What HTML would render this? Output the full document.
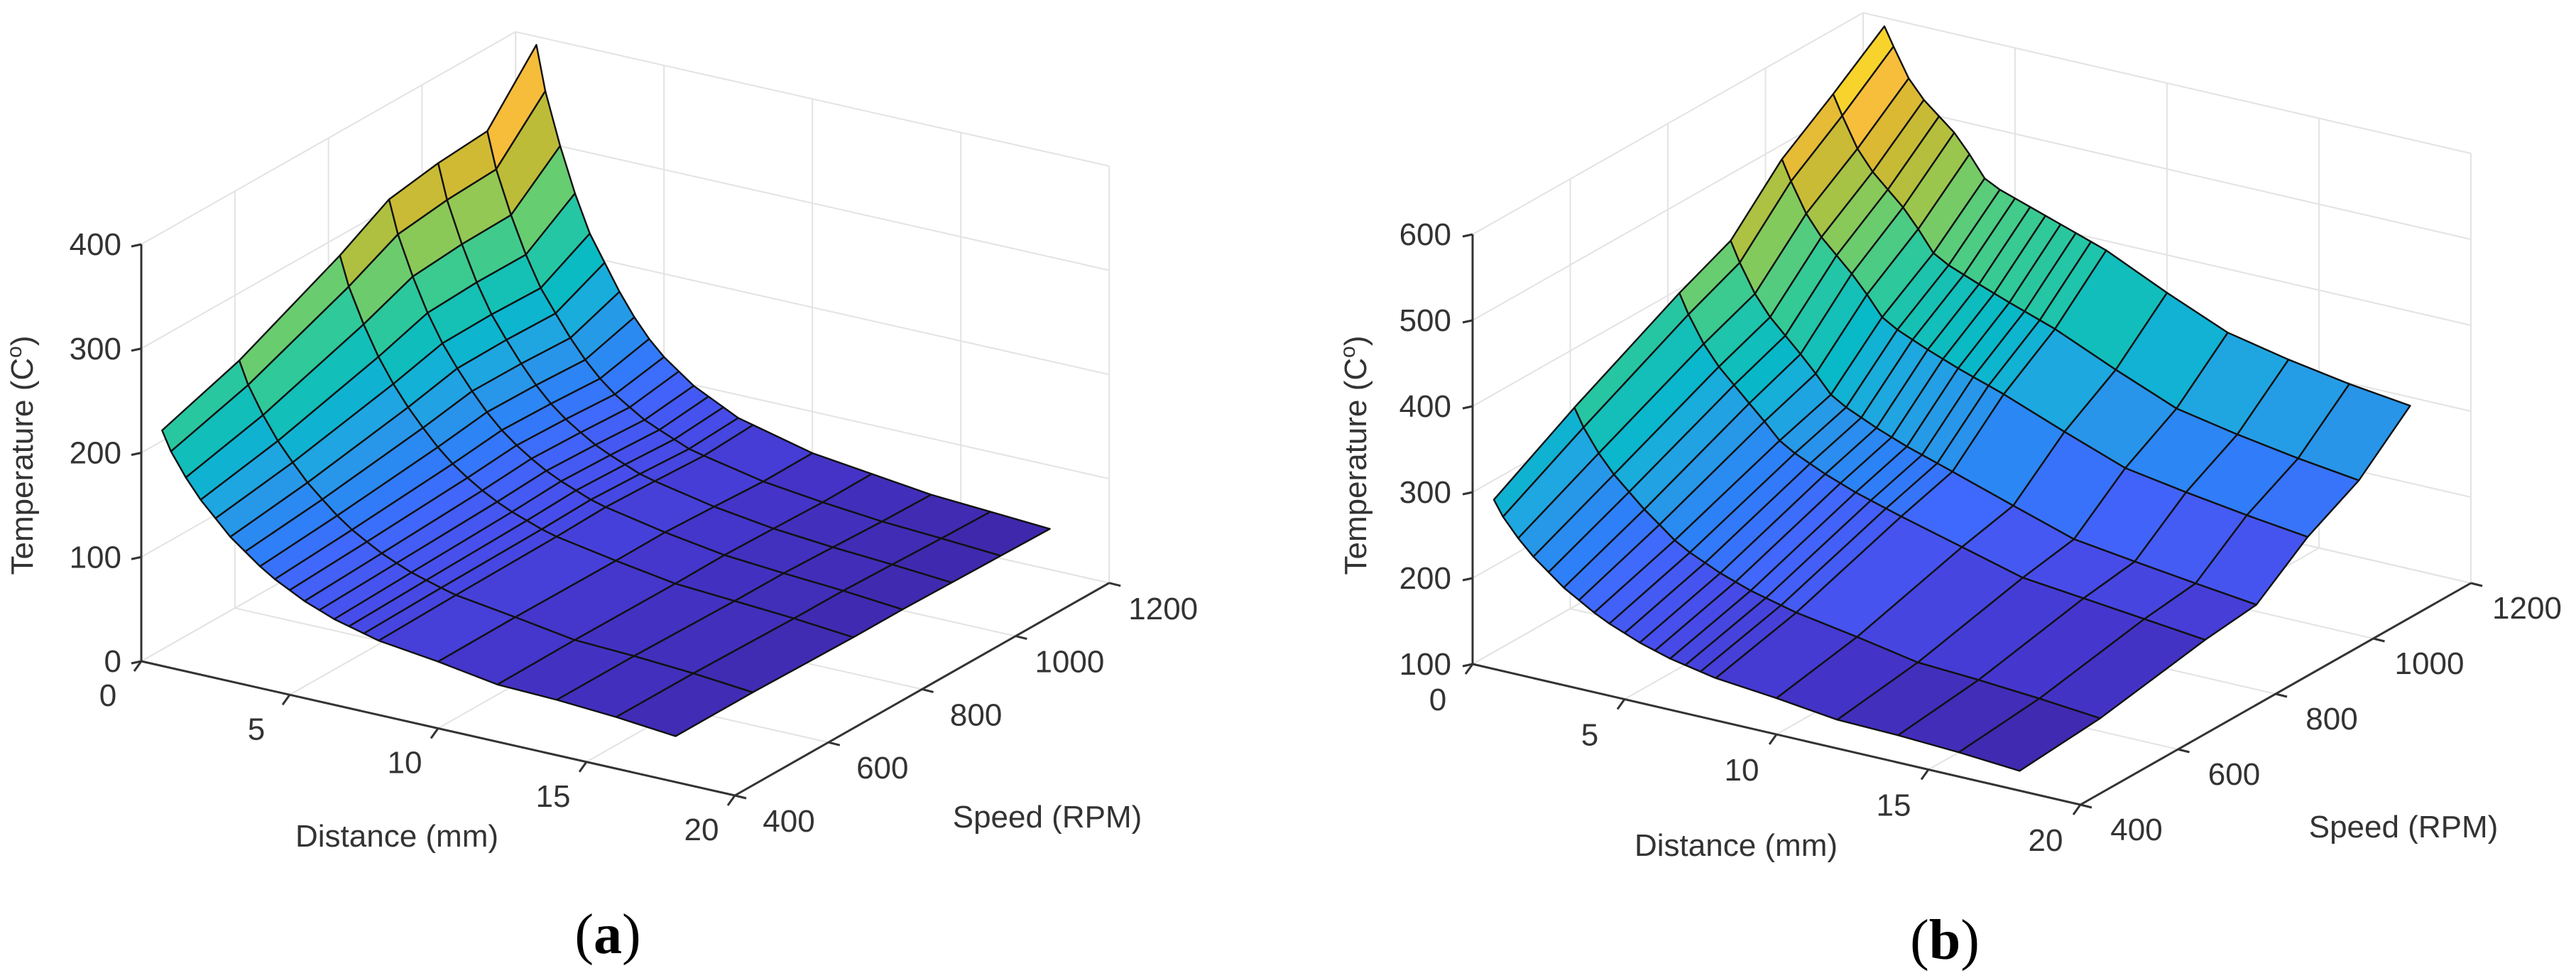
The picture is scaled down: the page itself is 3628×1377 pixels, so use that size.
<!DOCTYPE html>
<html><head><meta charset="utf-8"><style>
html,body{margin:0;padding:0;background:#fff}
svg{display:block}
text{font-family:"Liberation Sans",Arial,sans-serif;fill:#333}
.cap{font-family:"Liberation Serif",serif;fill:#000}
</style></head><body>
<svg id="fig" width="3628" height="1377" viewBox="0 0 3628 1377" xmlns="http://www.w3.org/2000/svg">
<rect width="3628" height="1377" fill="#fff"/>
<g id="panelA"></g>
<g id="panelB"></g>
<text class="cap" x="856" y="1342" font-size="80" text-anchor="middle">(<tspan font-weight="bold">a</tspan>)</text>
<text class="cap" x="2739" y="1350" font-size="80" text-anchor="middle">(<tspan font-weight="bold">b</tspan>)</text>
</svg>
<script>
// ---- data ----
const dist = [0.7,1,1.5,2,2.5,3,3.5,4,4.5,5,5.5,6,6.5,7,7.5,8,10,12,14,16,18];
const speed = [400,565,780,885,990,1095,1200];
const distTicks = [0,5,10,15,20];
const speedTicks = [400,600,800,1000,1200];
const tempTicksA = [0,100,200,300,400];
const tempTicksB = [100,200,300,400,500,600];
// panel a: temperature at nearest distance and farthest distance per speed
const zNearA = [226,251,297,324,332,336,392];
const zFarA = [44,44,42,42,41,40,39];
const decayFrontA = [1,.9,.78,.68,.6,.52,.46,.4,.35,.31,.27,.24,.21,.19,.17,.15,.11,.06,.05,.03,0];
const decayBackA = [1,.88,.74,.62,.52,.45,.38,.32,.27,.23,.2,.17,.15,.13,.11,.1,.06,.04,.02,.01,0];
// panel b
const zNearB = [297,351,415,442,503,545,590];
const zFarB = [123,131,153,160,205,237,290];
const decayFrontB = [1,.9,.78,.68,.6,.52,.46,.4,.35,.31,.27,.24,.21,.19,.17,.15,.11,.06,.05,.03,0];
const decayBackB = [1,.93,.82,.75,.7,.65,.58,.5,.47,.45,.43,.41,.39,.37,.35,.33,.22,.12,.07,.03,0];

const NS = "http://www.w3.org/2000/svg";
const parula = [[0,62,38,168],[.0625,69,55,206],[.125,71,79,236],[.1875,65,103,252],[.25,45,128,248],[.3125,40,150,233],[.375,28,170,223],[.4375,7,185,200],[.5,24,194,177],[.5625,52,202,149],[.625,100,205,115],[.6875,150,200,80],[.75,190,188,55],[.8125,220,185,50],[.875,250,190,60],[.9375,248,215,40],[1,249,251,21]];
function cmap(t){t=Math.max(0,Math.min(1,t));for(let k=1;k<parula.length;k++){if(t<=parula[k][0]){const a=parula[k-1],b=parula[k],f=(t-a[0])/(b[0]-a[0]);return `rgb(${Math.round(a[1]+f*(b[1]-a[1]))},${Math.round(a[2]+f*(b[2]-a[2]))},${Math.round(a[3]+f*(b[3]-a[3]))})`;}}return "rgb(249,251,21)";}
function mk(tag,attrs,parent){const e=document.createElementNS(NS,tag);for(const k in attrs)e.setAttribute(k,attrs[k]);parent.appendChild(e);return e;}

function drawPanel(g,cfg){
  const P=(d,s,z)=>[cfg.L[0]+d*cfg.du[0]+(s-400)/100*cfg.su[0],cfg.L[1]+d*cfg.du[1]+(s-400)/100*cfg.su[1]-(z-cfg.z0)*cfg.zu];
  const line=(a,b,stroke,w,name)=>{const l=mk('line',{x1:a[0],y1:a[1],x2:b[0],y2:b[1],stroke:stroke,'stroke-width':w},g);
    
    return l;};
  const gc='#e3e3e3',zmin=cfg.zt[0],zmax=cfg.zt[cfg.zt.length-1];
  // grid: d=0 wall
  cfg.zt.forEach(z=>{line(P(0,400,z),P(0,1200,z),gc,2,'grid-line');line(P(0,1200,z),P(20,1200,z),gc,2,'grid-line');});
  speedTicks.forEach(s=>{line(P(0,s,zmin),P(0,s,zmax),gc,2,'grid-line');line(P(0,s,zmin),P(20,s,zmin),gc,2,'grid-line');});
  distTicks.forEach(d=>{line(P(d,1200,zmin),P(d,1200,zmax),gc,2,'grid-line');line(P(d,400,zmin),P(d,1200,zmin),gc,2,'grid-line');});
  // axes
  const ac='#333';
  line(P(0,400,zmin),P(0,400,zmax),ac,3,'z-axis-line');
  line(P(0,400,zmin),P(20,400,zmin),ac,3,'distance-axis-line');
  line(P(20,400,zmin),P(20,1200,zmin),ac,3,'speed-axis-line');
  cfg.zt.forEach(z=>{const p=P(0,400,z);line(p,[p[0]-14,p[1]+3],ac,3,'z-tick');
    const t=mk('text',{x:p[0]-cfg.zlab,y:p[1]+15,'font-size':44,'text-anchor':'end'},g);t.textContent=z;
    
    });
  distTicks.forEach(d=>{const p=P(d,400,zmin);line(p,[p[0]-10,p[1]+14],ac,3,'distance-tick');
    const t=mk('text',{x:p[0]+cfg.dOff[0],y:p[1]+cfg.dOff[1]+15,'font-size':44,'text-anchor':'middle'},g);t.textContent=d;
    
    });
  speedTicks.forEach(s=>{const p=P(20,s,zmin);line(p,[p[0]+16,p[1]+4],ac,3,'speed-tick');
    const t=mk('text',{x:p[0]+cfg.sOff[0],y:p[1]+cfg.sOff[1]+15,'font-size':44,'text-anchor':'middle'},g);t.textContent=s;
    
    });
  // surface values
  const Z=[];let lo=1e9,hi=-1e9;
  for(let i=0;i<dist.length;i++){Z.push([]);for(let j=0;j<speed.length;j++){const w=(speed[j]-400)/800;
    const r=cfg.df[i]*(1-w)+cfg.db[i]*w;const z=cfg.zf[j]+(cfg.zn[j]-cfg.zf[j])*r;Z[i].push(z);lo=Math.min(lo,z);hi=Math.max(hi,z);}}
  const faces=[];
  for(let i=0;i<dist.length-1;i++)for(let j=0;j<speed.length-1;j++){
    const dc=(dist[i]+dist[i+1])/40,sc=((speed[j]+speed[j+1])/2-400)/800;faces.push([dc+(1-sc),i,j]);}
  faces.sort((a,b)=>a[0]-b[0]);
  const sg=mk('g',{},g);
  
  
  faces.forEach(([k,i,j])=>{
    const pts=[P(dist[i],speed[j],Z[i][j]),P(dist[i+1],speed[j],Z[i+1][j]),P(dist[i+1],speed[j+1],Z[i+1][j+1]),P(dist[i],speed[j+1],Z[i][j+1])];
    const m=(Z[i][j]+Z[i+1][j]+Z[i+1][j+1]+Z[i][j+1])/4;
    const poly=mk('polygon',{points:pts.map(p=>p.join(',')).join(' '),fill:cmap((m-lo)/(hi-lo)),stroke:'#111','stroke-width':2.4,'stroke-linejoin':'round'},sg);
    
    
  });
  // titles
  const tt=mk('text',{x:cfg.tT[0],y:cfg.tT[1],'font-size':44,'text-anchor':'middle',transform:`rotate(-90 ${cfg.tT[0]} ${cfg.tT[1]})`},g);
  tt.innerHTML='Temperature (C<tspan dy="-16" font-size="30">o</tspan><tspan dy="16">)</tspan>';
  
  
  const dt=mk('text',{x:cfg.tD[0],y:cfg.tD[1]+15,'font-size':44,'text-anchor':'middle'},g);dt.textContent='Distance (mm)';
  
  
  const st=mk('text',{x:cfg.tS[0],y:cfg.tS[1]+15,'font-size':44,'text-anchor':'middle'},g);st.textContent='Speed (RPM)';
  
  
}
drawPanel(document.getElementById('panelA'),{L:[199,931],du:[41.8,9.45],su:[65.9,-37.4],zu:1.4675,z0:0,zt:tempTicksA,
  zn:zNearA,zf:zFarA,df:decayFrontA,db:decayBackA,zlab:28,dOff:[-47,48],sOff:[76,36],tT:[46,641],tD:[559,1177],tS:[1475,1150]});
drawPanel(document.getElementById('panelB'),{L:[2074,935],du:[42.8,9.9],su:[68.75,-39],zu:1.21,z0:100,zt:tempTicksB,
  zn:zNearB,zf:zFarB,df:decayFrontB,db:decayBackB,zlab:30,dOff:[-49,50],sOff:[79,35],tT:[1924,641],tD:[2445,1190],tS:[3385,1164]});
</script>
</body></html>
